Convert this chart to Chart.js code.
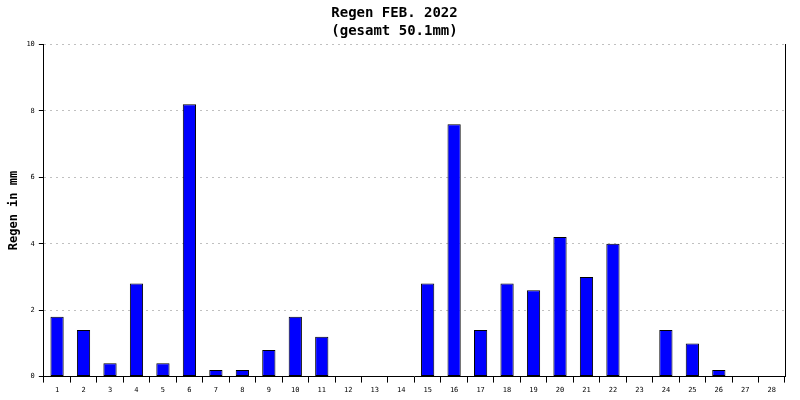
<!DOCTYPE html>
<html>
<head>
<meta charset="utf-8">
<script src="https://cdn.jsdelivr.net/npm/chart.js@4.4.0/dist/chart.umd.min.js"></script>
<style>
  html,body{margin:0;padding:0;background:#fff}
  #wrap{width:800px;height:400px}
</style>
</head>
<body>
<div id="wrap"><canvas id="c" width="800" height="400"></canvas></div>
<script>
// Regen Februar 2022 - daily values in mm
const days = ['1','2','3','4','5','6','7','8','9','10','11','12','13','14','15','16','17','18','19','20','21','22','23','24','25','26','27','28'];
const rain = [1.8,1.4,0.4,2.8,0.4,8.2,0.2,0.2,0.8,1.8,1.2,0,0,0,2.8,7.6,1.4,2.8,2.6,4.2,3.0,4.0,0,1.4,1.0,0.2,0,0];
const titleLines = ['Regen FEB. 2022','(gesamt 50.1mm)'];
const yTitle = 'Regen in mm';

const mono = "'DejaVu Sans Mono', monospace";

new Chart(document.getElementById('c').getContext('2d'), {
  type:'bar',
  data:{ labels:days, datasets:[{ data:rain, backgroundColor:'#0000ff', borderColor:'#000', borderWidth:1, borderSkipped:false, barPercentage:0.5, categoryPercentage:1 }] },
  options:{
    responsive:false, animation:false,
    layout:{ padding:{ top:0, right:15, bottom:3, left:4 } },
    plugins:{
      legend:{ display:false }, tooltip:{ enabled:false },
      title:{ display:true, text:titleLines, color:'#000', font:{ family:mono, size:14, weight:'bold', lineHeight:1.3 }, padding:{ top:4, bottom:4 } }
    },
    scales:{
      x:{
        grid:{ offset:true, drawOnChartArea:false, drawTicks:true, tickLength:6, color:'#000' },
        border:{ color:'#000', width:1 },
        ticks:{ color:'#000', font:{ family:mono, size:7 }, padding:3, maxRotation:0, autoSkip:false }
      },
      y:{
        min:0, max:10,
        title:{ display:true, text:yTitle, color:'#000', font:{ family:mono, size:12, weight:'bold' }, padding:{ top:3, bottom:1 } },
        grid:{ color:'#c0c0c0', tickColor:'#000', tickBorderDash:[], tickLength:5 },
        border:{ color:'#000', width:1, dash:[2,4] },
        ticks:{ stepSize:2, color:'#000', font:{ family:mono, size:7 }, padding:4 }
      },
      y2:{
        position:'right', min:0, max:10,
        grid:{ drawOnChartArea:false, drawTicks:false },
        border:{ color:'#000', width:1 },
        ticks:{ display:false }
      }
    }
  }
});
</script>
</body>
</html>
